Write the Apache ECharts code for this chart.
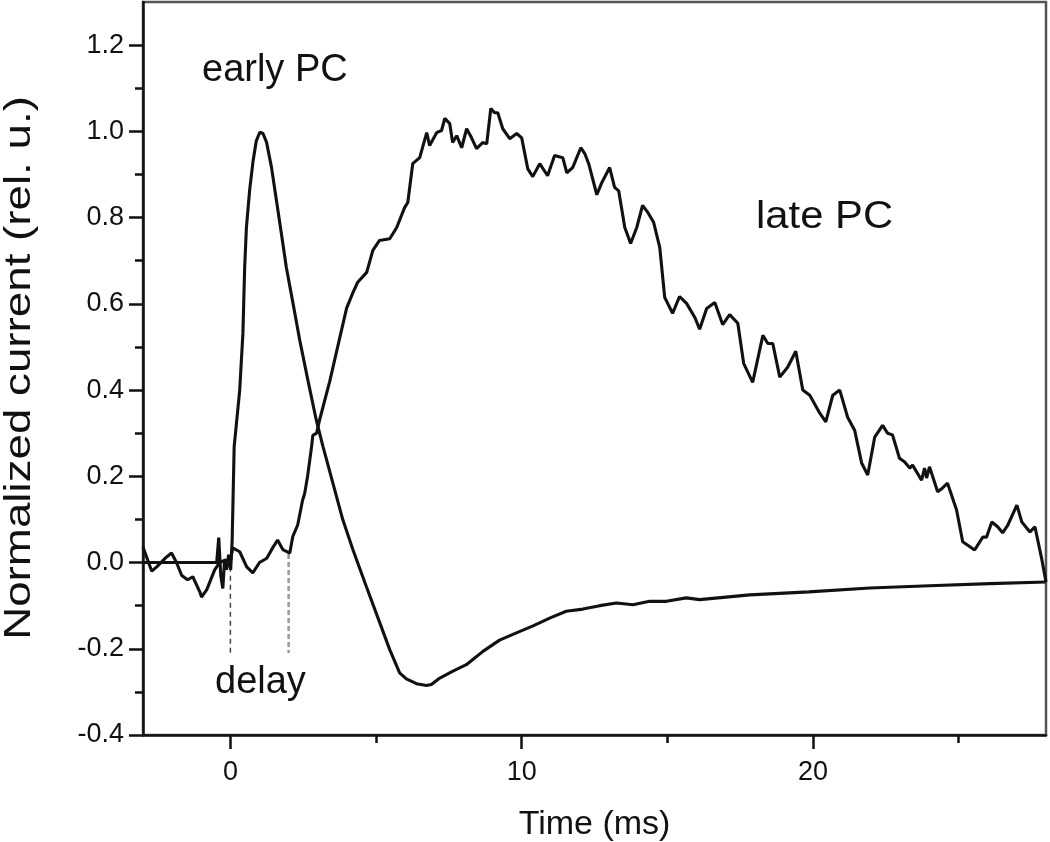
<!DOCTYPE html>
<html>
<head>
<meta charset="utf-8">
<script src="https://cdn.jsdelivr.net/npm/echarts@6/dist/echarts.min.js"></script>
<style>
html,body{margin:0;padding:0;background:#fff;}
#chart{width:1050px;height:842px;}
</style>
</head>
<body>
<div id="chart"></div>
<script>
// ---- data (time in ms, normalized current in rel. u.) ----
var earlyTime = [-3.0,-0.47,-0.40,-0.33,-0.26,-0.20,-0.13,-0.06,0.01,0.06,0.13,0.32,0.43,0.49,0.55,0.66,0.78,0.89,1.01,1.12,1.24,1.41,1.58,1.75,1.92,2.15,2.38,2.66,2.95,3.18,3.86,4.21,4.67,5.13,5.47,5.81,6.04,6.39,6.73,6.90,7.19,7.64,8.10,8.67,9.24,9.82,10.39,10.96,11.53,12.10,12.68,13.25,13.82,14.39,14.97,15.65,16.11,17.83,19.86,21.95,24.0,26.07,28.0];
var earlyValue = [0,0,0.058,-0.03,-0.06,0.006,-0.017,0.018,-0.017,0.05,0.269,0.400,0.532,0.684,0.777,0.863,0.932,0.978,0.998,0.995,0.975,0.917,0.840,0.763,0.685,0.601,0.516,0.423,0.330,0.269,0.099,0.029,-0.056,-0.140,-0.202,-0.256,-0.270,-0.281,-0.285,-0.283,-0.268,-0.252,-0.237,-0.206,-0.180,-0.163,-0.147,-0.129,-0.113,-0.108,-0.100,-0.094,-0.098,-0.090,-0.090,-0.082,-0.086,-0.075,-0.068,-0.059,-0.054,-0.049,-0.045];

var lateTime = [-3.0,-2.70,-2.53,-2.19,-2.02,-1.85,-1.67,-1.47,-1.29,-1.05,-0.99,-0.81,-0.54,-0.37,-0.16,-0.02,0.08,0.32,0.56,0.77,1.0,1.25,1.45,1.62,1.80,2.04,2.14,2.31,2.48,2.55,2.65,2.79,2.83,2.96,3.06,3.41,3.75,3.99,4.20,4.37,4.68,4.89,5.12,5.47,5.71,5.98,6.09,6.26,6.50,6.74,6.84,7.08,7.25,7.36,7.53,7.63,7.77,7.94,8.11,8.28,8.45,8.66,8.80,8.94,9.07,9.18,9.35,9.59,9.83,10.0,10.21,10.38,10.62,10.89,11.13,11.41,11.55,11.75,12.03,12.17,12.30,12.58,12.75,13.02,13.19,13.33,13.54,13.74,13.95,14.15,14.33,14.53,14.74,14.91,15.18,15.42,15.66,15.94,16.11,16.35,16.63,16.90,17.14,17.42,17.62,17.93,18.28,18.45,18.62,18.86,19.13,19.41,19.65,19.89,20.23,20.44,20.68,20.92,21.19,21.43,21.67,21.88,22.12,22.39,22.56,22.73,22.97,23.15,23.32,23.42,23.73,23.83,23.90,24.0,24.28,24.45,24.62,24.93,25.14,25.55,25.83,25.96,26.14,26.34,26.51,26.69,27.0,27.17,27.45,27.62,27.86,28.0];
var lateValue = [0.036,-0.02,-0.01,0.013,0.022,0.0,-0.03,-0.04,-0.033,-0.068,-0.08,-0.063,-0.017,0,0.006,-0.005,0.034,0.025,-0.01,-0.024,0.0,0.01,0.034,0.052,0.03,0.022,0.06,0.087,0.145,0.16,0.2,0.27,0.295,0.30,0.33,0.42,0.52,0.59,0.625,0.65,0.673,0.724,0.747,0.751,0.777,0.823,0.835,0.925,0.939,0.997,0.967,0.997,1.002,1.03,1.018,0.974,0.99,0.962,1.006,0.985,0.96,0.974,0.971,1.053,1.043,1.043,1.006,0.983,0.995,0.985,0.913,0.895,0.925,0.897,0.944,0.939,0.904,0.916,0.962,0.948,0.925,0.853,0.881,0.916,0.87,0.862,0.777,0.74,0.777,0.828,0.812,0.789,0.731,0.615,0.578,0.617,0.601,0.569,0.541,0.589,0.603,0.552,0.575,0.555,0.462,0.418,0.527,0.508,0.508,0.43,0.453,0.49,0.4,0.388,0.347,0.326,0.388,0.4,0.337,0.307,0.231,0.203,0.291,0.318,0.3,0.296,0.242,0.233,0.219,0.226,0.191,0.219,0.196,0.222,0.164,0.173,0.184,0.122,0.048,0.029,0.059,0.059,0.094,0.083,0.069,0.087,0.133,0.094,0.071,0.083,0.006,-0.045];

// delay markers
var delayTime = [0, 2.0];
var delayTop = [-0.01, 0.02];
var delayBottom = [-0.21, -0.21];

var xMajorTicks = [0, 10, 20];
var xMinorTicks = [5, 15, 25];
var yMajorTicks = [-0.4, -0.2, 0.0, 0.2, 0.4, 0.6, 0.8, 1.0, 1.2];
var yMinorTicks = [-0.3, -0.1, 0.1, 0.3, 0.5, 0.7, 0.9, 1.1];

function zip(a, b) { return a.map(function (v, i) { return [v, b[i]]; }); }

var FONT = 'Liberation Sans, Arial, Helvetica, sans-serif';
var chart = echarts.init(document.getElementById('chart'));

var axisCommonX = { type: 'value', min: -3, max: 28, gridIndex: 0, splitLine: { show: false } };
var axisCommonY = { type: 'value', min: -0.4, max: 1.3, gridIndex: 0, splitLine: { show: false } };

var option = {
  animation: false,
  backgroundColor: '#fff',
  grid: { left: 143, right: 4, top: 2, bottom: 107, show: true, borderColor: '#555', borderWidth: 2.5,
    outerBoundsMode: 'none', containLabel: false },
  xAxis: [
    Object.assign({}, axisCommonX, {
      position: 'bottom',
      name: 'Time (ms)', nameLocation: 'middle', nameGap: 73,
      nameTextStyle: { fontFamily: FONT, fontSize: 34, color: '#111' },
      axisLine: { show: true, onZero: false, lineStyle: { color: '#111', width: 2.5 } },
      axisTick: { show: true, inside: false, length: 14, customValues: xMajorTicks, lineStyle: { color: '#111', width: 2.5 } },
      axisLabel: { show: true, customValues: xMajorTicks, margin: 24, fontFamily: FONT, fontSize: 27, color: '#111' }
    }),
    Object.assign({}, axisCommonX, {
      position: 'bottom',
      axisLine: { show: false, onZero: false },
      axisTick: { show: true, inside: false, length: 8, customValues: xMinorTicks, lineStyle: { color: '#111', width: 2.5 } },
      axisLabel: { show: false }
    })
  ],
  yAxis: [
    Object.assign({}, axisCommonY, {
      position: 'left',
      axisLine: { show: true, onZero: false, lineStyle: { color: '#111', width: 2.5 } },
      axisTick: { show: true, inside: false, length: 14, customValues: yMajorTicks, lineStyle: { color: '#111', width: 2.5 } },
      axisLabel: { show: true, customValues: yMajorTicks, margin: 19, fontFamily: FONT, fontSize: 27, color: '#111',
        formatter: function (v) { return v.toFixed(1); } }
    }),
    Object.assign({}, axisCommonY, {
      position: 'left',
      axisLine: { show: false, onZero: false },
      axisTick: { show: true, inside: false, length: 8, customValues: yMinorTicks, lineStyle: { color: '#111', width: 2.5 } },
      axisLabel: { show: false }
    })
  ],
  series: [
    { name: 'early PC', type: 'line', data: zip(earlyTime, earlyValue), showSymbol: false, symbol: 'none',
      lineStyle: { color: '#111', width: 3.1 }, z: 3 },
    { name: 'late PC', type: 'line', data: zip(lateTime, lateValue), showSymbol: false, symbol: 'none',
      lineStyle: { color: '#111', width: 3.1 }, z: 3 },
    { name: 'delay start', type: 'line', data: [[delayTime[0], delayTop[0]], [delayTime[0], delayBottom[0]]], symbol: 'none',
      lineStyle: { color: '#444', width: 1.5, type: [5, 4] }, z: 2 },
    { name: 'delay end', type: 'line', data: [[delayTime[1], delayTop[1]], [delayTime[1], delayBottom[1]]], symbol: 'none',
      lineStyle: { color: '#999', width: 2.5, type: [5, 3] }, z: 2 }
  ],
  graphic: [
    { type: 'text', x: 20, y: 368, rotation: Math.PI / 2, scaleX: 1.27,
      style: { text: 'Normalized current (rel. u.)', font: '36px ' + FONT, fill: '#111', align: 'center', verticalAlign: 'middle' } },
    { type: 'text', left: 202, top: 52, style: { text: 'early PC', font: '38px ' + FONT, fill: '#111' } },
    { type: 'text', x: 756, y: 199, scaleX: 1.1, style: { text: 'late PC', font: '38px ' + FONT, fill: '#111', align: 'left', verticalAlign: 'top' } },
    { type: 'text', left: 215, top: 664, style: { text: 'delay', font: '38px ' + FONT, fill: '#111' } }
  ]
};
chart.setOption(option);
</script>
</body>
</html>
